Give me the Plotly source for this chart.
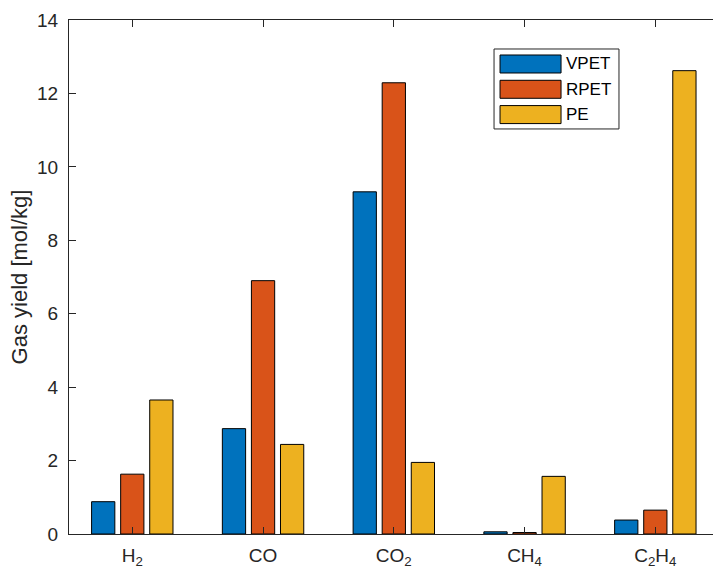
import plotly.graph_objects as go

# Gas yields per product gas for three plastic feedstocks
gases = ["H<sub>2</sub>", "CO", "CO<sub>2</sub>", "CH<sub>4</sub>", "C<sub>2</sub>H<sub>4</sub>"]
series_names = ["VPET", "RPET", "PE"]
vpet = [0.88, 2.87, 9.32, 0.06, 0.38]
rpet = [1.63, 6.90, 12.29, 0.04, 0.65]
pe = [3.65, 2.44, 1.95, 1.57, 12.62]
y_ticks = [0, 2, 4, 6, 8, 10, 12, 14]

colors = ["#0072BD", "#D95319", "#EDB120"]
text_color = "#262626"
font_family = "Liberation Sans, Arial, Helvetica, sans-serif"

positions = list(range(1, len(gases) + 1))

fig = go.Figure()
for name, vals, col in zip(series_names, [vpet, rpet, pe], colors):
    fig.add_trace(go.Bar(
        x=positions, y=vals, name=name,
        marker=dict(color=col, line=dict(color="#000000", width=1)),
        showlegend=False,
    ))

# Boxed legend with wide colour swatches, placed in the upper right
box_x0, box_x1 = 0.660, 0.854
box_y0, box_y1 = 0.788, 0.9436
row_h = 25.3 / 514
fig.add_shape(type="rect", xref="paper", yref="paper",
              x0=box_x0, x1=box_x1, y0=box_y0, y1=box_y1,
              line=dict(color=text_color, width=1), fillcolor="white")
for i, (name, col) in enumerate(zip(series_names, colors)):
    yc = box_y1 - (15 / 514) - i * row_h
    fig.add_shape(type="rect", xref="paper", yref="paper",
                  x0=box_x0 + 6 / 644, x1=box_x0 + 67 / 644,
                  y0=yc - 9 / 514, y1=yc + 9 / 514,
                  line=dict(color="#000000", width=1), fillcolor=col)
    fig.add_annotation(xref="paper", yref="paper", x=box_x0 + 70 / 644, y=yc,
                       text=name, showarrow=False, xanchor="left", yanchor="middle",
                       font=dict(size=17, color="#000000", family=font_family))

fig.update_layout(
    width=713, height=572,
    margin=dict(l=69, r=0, t=20, b=38),
    paper_bgcolor="white", plot_bgcolor="white",
    barmode="group", bargap=0.333, bargroupgap=0.2,
    font=dict(family=font_family, size=19, color=text_color),
    xaxis=dict(
        range=[0.516, 5.441], tickmode="array", tickvals=positions, ticktext=gases,
        showline=True, linecolor=text_color, linewidth=1, mirror="ticks",
        ticks="inside", ticklen=7, tickcolor=text_color, showgrid=False, zeroline=False,
        tickfont=dict(size=19, color=text_color, family=font_family), ticklabelstandoff=4,
    ),
    yaxis=dict(
        range=[0, 14], tickmode="array", tickvals=y_ticks,
        showline=True, linecolor=text_color, linewidth=1, mirror=False,
        ticks="inside", ticklen=7, tickcolor=text_color, showgrid=False, zeroline=False,
        tickfont=dict(size=19, color=text_color, family=font_family), ticklabelstandoff=6,
        title=dict(text="Gas yield [mol/kg]",
                   font=dict(size=22, color=text_color, family=font_family), standoff=3),
    ),
)

fig.write_html("out.html")
